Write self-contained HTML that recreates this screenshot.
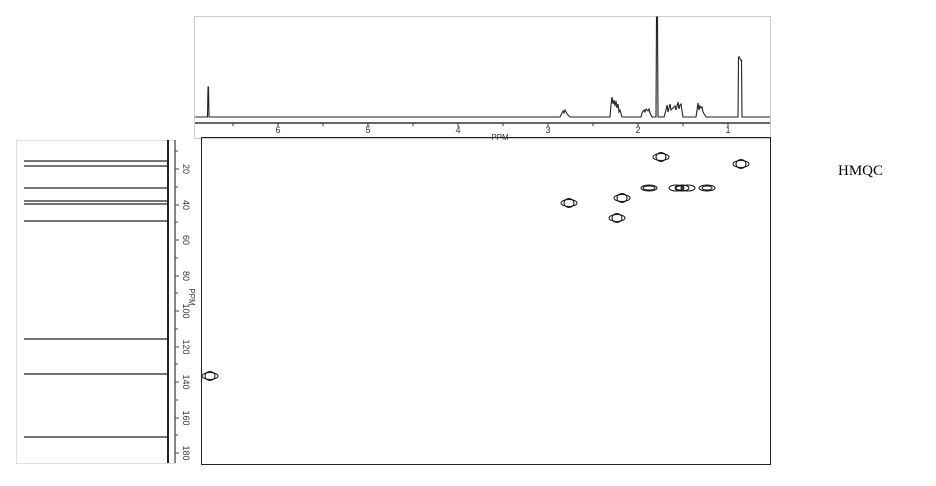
<!DOCTYPE html>
<html><head><style>
html,body{margin:0;padding:0;background:#fff;}
body{width:936px;height:486px;overflow:hidden;position:relative;}
</style></head><body>
<svg width="936" height="486" viewBox="0 0 936 486" xmlns="http://www.w3.org/2000/svg" style="position:absolute;left:0;top:0">
<rect x="194.5" y="16.5" width="576" height="122" fill="none" stroke="#ccc" stroke-width="1"/>
<line x1="195" y1="123" x2="770" y2="123" stroke="#333" stroke-width="1.5"/>
<g stroke="#333" stroke-width="1">
<line x1="233" y1="123" x2="233" y2="126"/><line x1="278" y1="123" x2="278" y2="127"/>
<line x1="323" y1="123" x2="323" y2="126"/><line x1="368" y1="123" x2="368" y2="127"/>
<line x1="413" y1="123" x2="413" y2="126"/><line x1="458" y1="123" x2="458" y2="127"/>
<line x1="503" y1="123" x2="503" y2="126"/><line x1="548" y1="123" x2="548" y2="127"/>
<line x1="593" y1="123" x2="593" y2="126"/><line x1="638" y1="123" x2="638" y2="127"/>
<line x1="683" y1="123" x2="683" y2="126"/><line x1="728" y1="123" x2="728" y2="127"/>
</g>
<g font-family="Liberation Sans, sans-serif" font-size="9" fill="#333" text-anchor="middle">
<text x="278" y="133">6</text><text x="368" y="133">5</text><text x="458" y="133">4</text>
<text x="548" y="133">3</text><text x="638" y="133">2</text><text x="728" y="133">1</text>
<text x="500" y="140" font-size="8">PPM</text>
</g>
<polyline fill="none" stroke="#222" stroke-width="1.1" points="
195,117 207.5,117 208,87 208.5,87 209,117 560,117 562,113 563,111 564,113 565,110 566,112 568,115 570,117
610,117 611,105 612,97 613,104 614,100 615,106 616,101 617,108 618,104 619,112 620,110 622,117
641,117 642,113 644,110 645,112 646,109 648,111 649,109 650,113 652,117 656,117 656.5,17 657.5,17 658,117
664,117 666,110 667,105 668,112 669,108 670,104 671,110 673,108 675,106 676,110 677,106 678,102 679,109 680,105 681,104 683,117
696,117 697,110 698,103 699,110 700,106 701,108 702,107 703,112 706,117
738,117 738.5,57 739.5,57 740.5,60 741.5,60 742,117 770,117"/>
<rect x="16.5" y="140.5" width="159" height="323" fill="none" stroke="#ddd"/>
<g stroke="#222" stroke-width="1.3">
<line x1="24" y1="161" x2="167" y2="161"/><line x1="24" y1="166" x2="167" y2="166"/>
<line x1="24" y1="188" x2="167" y2="188"/><line x1="24" y1="201" x2="167" y2="201"/>
<line x1="24" y1="204" x2="167" y2="204"/><line x1="24" y1="221" x2="167" y2="221"/>
<line x1="24" y1="339" x2="167" y2="339"/><line x1="24" y1="374" x2="167" y2="374"/>
<line x1="24" y1="437" x2="167" y2="437"/>
</g>
<line x1="168" y1="140" x2="168" y2="463" stroke="#222" stroke-width="2"/>
<line x1="175" y1="140" x2="175" y2="463" stroke="#444" stroke-width="1.2"/>
<g stroke="#444" stroke-width="1">
<line x1="175" y1="151" x2="178" y2="151"/><line x1="175" y1="169" x2="179" y2="169"/>
<line x1="175" y1="187" x2="178" y2="187"/><line x1="175" y1="205" x2="179" y2="205"/>
<line x1="175" y1="222" x2="178" y2="222"/><line x1="175" y1="240" x2="179" y2="240"/>
<line x1="175" y1="258" x2="178" y2="258"/><line x1="175" y1="276" x2="179" y2="276"/>
<line x1="175" y1="293" x2="178" y2="293"/><line x1="175" y1="311" x2="179" y2="311"/>
<line x1="175" y1="329" x2="178" y2="329"/><line x1="175" y1="347" x2="179" y2="347"/>
<line x1="175" y1="364" x2="178" y2="364"/><line x1="175" y1="382" x2="179" y2="382"/>
<line x1="175" y1="400" x2="178" y2="400"/><line x1="175" y1="418" x2="179" y2="418"/>
<line x1="175" y1="435" x2="178" y2="435"/><line x1="175" y1="453" x2="179" y2="453"/>
</g>
<g font-family="Liberation Sans, sans-serif" font-size="9" fill="#335" text-anchor="middle">
<text transform="translate(183,169) rotate(90)">20</text>
<text transform="translate(183,205) rotate(90)">40</text>
<text transform="translate(183,240) rotate(90)">60</text>
<text transform="translate(183,276) rotate(90)">80</text>
<text transform="translate(183,311) rotate(90)">100</text>
<text transform="translate(183,347) rotate(90)">120</text>
<text transform="translate(183,382) rotate(90)">140</text>
<text transform="translate(183,418) rotate(90)">160</text>
<text transform="translate(183,453) rotate(90)">180</text>
<text transform="translate(189,297) rotate(90)" font-size="8">PPM</text>
</g>
<rect x="201.5" y="137.5" width="569" height="327" fill="none" stroke="#222" stroke-width="1"/>
<g fill="none" stroke="#111" stroke-width="1">
<g transform="translate(661,157)"><ellipse rx="8" ry="3.5"/><ellipse rx="5" ry="4.5"/></g>
<g transform="translate(741,164)"><ellipse rx="8" ry="3.5"/><ellipse rx="5" ry="4.5"/></g>
<g transform="translate(569,203)"><ellipse rx="8" ry="3.5"/><ellipse rx="5" ry="4.5"/></g>
<g transform="translate(622,198)"><ellipse rx="8" ry="3.5"/><ellipse rx="5" ry="4.5"/></g>
<g transform="translate(617,218)"><ellipse rx="8" ry="3.5"/><ellipse rx="5" ry="4.5"/></g>
<g transform="translate(210,376)"><ellipse rx="8" ry="3.5"/><ellipse rx="5" ry="4.5"/></g>
<ellipse cx="649" cy="188" rx="8" ry="3"/><ellipse cx="649" cy="188" rx="6" ry="2"/>
<ellipse cx="676" cy="188" rx="7" ry="3"/><ellipse cx="682" cy="188" rx="7" ry="3"/>
<ellipse cx="688" cy="188" rx="7" ry="3"/><ellipse cx="680" cy="188" rx="4" ry="2"/>
<ellipse cx="707" cy="188" rx="8" ry="3"/><ellipse cx="707" cy="188" rx="5" ry="2"/>
</g>
<text x="838" y="175" font-family="Liberation Serif, serif" font-size="15" fill="#000">HMQC</text>
</svg>
</body></html>
